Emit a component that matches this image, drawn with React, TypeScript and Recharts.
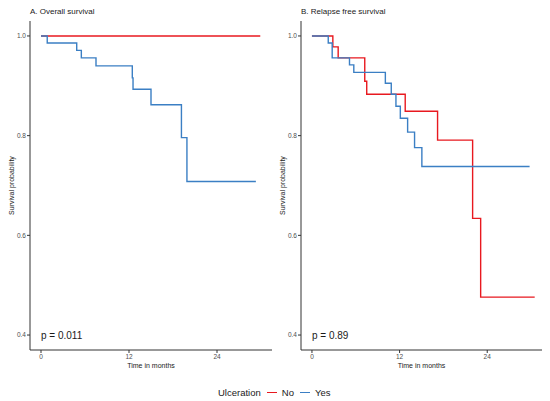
import { LineChart, Line, XAxis, YAxis, ReferenceDot } from 'recharts'

// overall survival (months, probability)
const osNoTime = [0, 29.9]
const osNoSurv = [1, 1]
const osYesTime = [0, 0.85, 4.87, 5.5, 7.5, 12.45, 12.55, 15.0, 19.15, 19.9, 29.3]
const osYesSurv = [1, 0.986, 0.971, 0.956, 0.94, 0.916, 0.893, 0.862, 0.796, 0.708, 0.708]

// relapse free survival
const rfsNoTime = [0, 2.86, 3.59, 7.23, 7.5, 12.77, 17.2, 22.0, 23.1, 30.5]
const rfsNoSurv = [1, 0.978, 0.956, 0.909, 0.883, 0.849, 0.791, 0.634, 0.476, 0.476]
const rfsYesTime = [0, 2.23, 2.77, 5.14, 5.73, 10.05, 10.86, 11.5, 12.1, 13.1, 14.05, 15.05, 29.8]
const rfsYesSurv = [1, 0.986, 0.956, 0.942, 0.927, 0.905, 0.883, 0.859, 0.835, 0.807, 0.776, 0.738, 0.738]

const xTicks = [0, 12, 24]
const yTicks = [0.4, 0.6, 0.8, 1.0]

const RED = '#e8191f'
const BLUE = '#3b7fc4'
const FONT = 'Arial, "Liberation Sans", sans-serif'

const zip = (t: number[], s: number[]) => t.map((v, i) => ({ t: v, s: s[i] }))

function KMPanel({ left, axisWidth, marginRight, title, pText, noData, yesData }: any) {
  return (
    <div style={{ position: 'absolute', left, top: 0 }}>
      <LineChart width={275} height={372} margin={{ top: 21, right: marginRight, left: 0, bottom: 0 }}>
        <XAxis
          dataKey="t"
          type="number"
          domain={[-1.5, 31.5]}
          ticks={xTicks}
          allowDataOverflow
          height={22}
          stroke="#333"
          tickSize={3}
          tickMargin={1}
          tick={{ fontSize: 6.5, fill: '#4d4d4d', fontFamily: FONT }}
          label={{ value: 'Time in months', position: 'insideBottom', offset: 4.5, fontSize: 7, fill: '#1a1a1a', fontFamily: FONT }}
        />
        <YAxis
          type="number"
          domain={[0.37, 1.03]}
          ticks={yTicks}
          allowDataOverflow
          width={axisWidth}
          stroke="#333"
          tickSize={3}
          tickMargin={1}
          tickFormatter={(v: number) => v.toFixed(1)}
          tick={{ fontSize: 6.5, fill: '#4d4d4d', fontFamily: FONT }}
          label={{ value: 'Survival probability', angle: -90, position: 'insideLeft', offset: axisWidth - 18, fontSize: 7, fill: '#1a1a1a', fontFamily: FONT, style: { textAnchor: 'middle' } }}
        />
        <Line data={noData} dataKey="s" type="stepAfter" stroke={RED} strokeWidth={1.4} dot={false} isAnimationActive={false} />
        <Line data={yesData} dataKey="s" type="stepAfter" stroke={BLUE} strokeWidth={1.4} dot={false} isAnimationActive={false} />
        <ReferenceDot x={0} y={0.4} r={0} fill="none" stroke="none"
          label={{ value: pText, position: 'right', offset: 0, fontSize: 10, fill: '#1a1a1a', fontFamily: FONT }} />
      </LineChart>
      <div style={{ position: 'absolute', left: axisWidth, top: 7, fontSize: 8, lineHeight: '10px', color: '#1a1a1a', fontFamily: FONT, whiteSpace: 'nowrap' }}>
        {title}
      </div>
    </div>
  )
}

export default function App() {
  return (
    <div style={{ position: 'absolute', left: 0, top: 0, width: 550, height: 401, background: '#fff', fontFamily: FONT }}>
      <KMPanel left={0} axisWidth={30} marginRight={3} title="A. Overall survival" pText="p = 0.011"
        noData={zip(osNoTime, osNoSurv)} yesData={zip(osYesTime, osYesSurv)} />
      <KMPanel left={275} axisWidth={26} marginRight={8} title="B. Relapse free survival" pText="p = 0.89"
        noData={zip(rfsNoTime, rfsNoSurv)} yesData={zip(rfsYesTime, rfsYesSurv)} />
      <div style={{ position: 'absolute', left: 218, top: 386, display: 'flex', alignItems: 'center', fontSize: 9.5, lineHeight: '13px', color: '#1a1a1a', whiteSpace: 'nowrap' }}>
        <span>Ulceration</span>
        <span style={{ display: 'inline-block', width: 10, height: 1.5, background: RED, margin: '0 5px 0 6px' }} />
        <span>No</span>
        <span style={{ display: 'inline-block', width: 10, height: 1.5, background: BLUE, margin: '0 5px 0 6px' }} />
        <span>Yes</span>
      </div>
    </div>
  )
}
